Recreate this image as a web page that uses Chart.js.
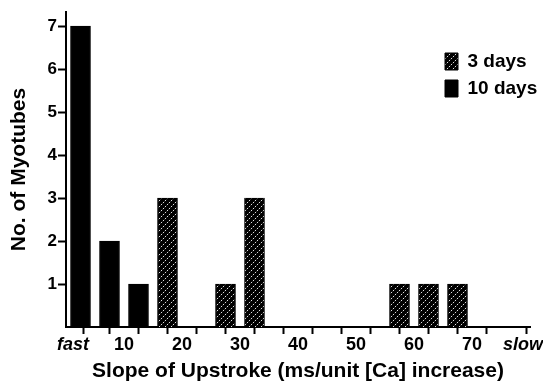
<!DOCTYPE html>
<html>
<head>
<meta charset="utf-8">
<script src="https://cdn.jsdelivr.net/npm/chart.js@4.4.0/dist/chart.umd.min.js"></script>
<style>
    body { margin: 0; background: #fff; }
    .chart-box { width: 543px; height: 385px; }
</style>
</head>
<body>
<div class="chart-box"><canvas id="histChart"></canvas></div>
<script>
// bins are 5 units wide, bars sit at the bin centres
var days3Bins = [17.5, 27.5, 32.5, 57.5, 62.5, 67.5];
var days3Counts = [3, 1, 3, 1, 1, 1];
var days10Bins = [2.5, 7.5, 12.5];
var days10Counts = [7, 2, 1];

// x axis: tick marks every 5, labels every 10, plus the fast / slow ends
var xTickMarks = [5, 10, 15, 20, 25, 30, 35, 40, 45, 50, 55, 60, 65, 70, 75, 80];
var xLabelValues = [1.2, 10, 20, 30, 40, 50, 60, 70, 78.8];
var xLabels = ["fast", "10", "20", "30", "40", "50", "60", "70", "slow"];
var yTicks = [1, 2, 3, 4, 5, 6, 7];

var fontFamily = "'Liberation Sans', Arial, Helvetica, sans-serif";

function toPoints(xs, ys) {
    return xs.map(function(x, i) { return { x: x, y: ys[i] }; });
}

// black fill with light dotted diagonal lines
function makeHatch() {
    var c = document.createElement("canvas");
    c.width = 6;
    c.height = 6;
    var g = c.getContext("2d");
    g.fillStyle = "#000";
    g.fillRect(0, 0, 6, 6);
    g.fillStyle = "#e0e0e0";
    [[5, 0], [3, 2], [1, 4]].forEach(function(p) { g.fillRect(p[0], p[1], 1, 1); });
    g.fillStyle = "#2a2a2a";
    [[4, 1], [2, 3], [0, 5]].forEach(function(p) { g.fillRect(p[0], p[1], 1, 1); });
    return g.createPattern(c, "repeat");
}

// put the legend in the upper right corner of the plot
// (the legend clips to its own box, so widen that box too)
var legendPlace = {
    id: "legendPlace",
    afterLayout: function(chart) {
        var lg = chart.legend;
        lg.left = 437;
        lg.top = 44;
        lg.right = chart.width;
        lg.bottom = chart.chartArea.bottom;
        lg.width = lg.right - lg.left;
        lg.height = lg.bottom - lg.top;
    }
};

var allXTicks = xTickMarks.concat(xLabelValues.filter(function(v) {
    return xTickMarks.indexOf(v) === -1;
})).sort(function(a, b) { return a - b; });

var ctx = document.getElementById("histChart").getContext("2d");
var histChart = new Chart(ctx, {
    type: "bar",
    data: {
        datasets: [{
            label: "3 days",
            data: toPoints(days3Bins, days3Counts),
            backgroundColor: makeHatch(),
            borderColor: "#000",
            borderWidth: 1,
            stack: "one"
        }, {
            label: "10 days",
            data: toPoints(days10Bins, days10Counts),
            backgroundColor: "#000",
            borderColor: "#000",
            borderWidth: 1,
            stack: "one"
        }]
    },
    options: {
        responsive: true,
        maintainAspectRatio: false,
        animation: false,
        barThickness: 20,
        layout: {
            padding: { top: 12, right: 13, left: 0, bottom: 0 }
        },
        plugins: {
            legend: {
                position: "chartArea",
                align: "start",
                labels: {
                    boxWidth: 13,
                    boxHeight: 17,
                    padding: 8,
                    color: "#000",
                    font: { family: fontFamily, size: 19, weight: "bold" }
                }
            },
            tooltip: { enabled: false }
        },
        scales: {
            x: {
                type: "linear",
                min: 0,
                max: 80,
                offset: false,
                afterBuildTicks: function(axis) {
                    axis.ticks = allXTicks.map(function(v) { return { value: v }; });
                },
                afterFit: function(axis) {
                    axis.height = 58;
                },
                border: { display: true, color: "#000", width: 2 },
                grid: {
                    drawOnChartArea: false,
                    drawTicks: true,
                    tickLength: 7,
                    tickWidth: 2,
                    tickColor: function(c) {
                        if (c.tick && xTickMarks.indexOf(c.tick.value) !== -1) return "#000";
                        return "rgba(0,0,0,0)";
                    }
                },
                ticks: {
                    autoSkip: false,
                    maxRotation: 0,
                    minRotation: 0,
                    padding: 0,
                    color: "#000",
                    font: function(c) {
                        var v = c.tick ? c.tick.value : null;
                        var edge = v === xLabelValues[0] || v === xLabelValues[xLabelValues.length - 1];
                        return { family: fontFamily, size: 18, weight: "bold", style: edge ? "italic" : "normal" };
                    },
                    callback: function(value) {
                        var i = xLabelValues.indexOf(value);
                        return i === -1 ? "" : xLabels[i];
                    }
                },
                title: {
                    display: true,
                    text: "Slope of Upstroke (ms/unit [Ca] increase)",
                    color: "#000",
                    font: { family: fontFamily, size: 21, weight: "bold" },
                    padding: { top: 0, bottom: 1 }
                }
            },
            y: {
                min: 0,
                max: 7.33,
                afterBuildTicks: function(axis) {
                    axis.ticks = yTicks.map(function(v) { return { value: v }; });
                },
                afterFit: function(axis) {
                    axis.width = 66;
                },
                border: { display: true, color: "#000", width: 2 },
                grid: {
                    drawOnChartArea: false,
                    drawTicks: true,
                    tickLength: 8,
                    tickWidth: 2,
                    tickColor: "#000"
                },
                ticks: {
                    padding: 1,
                    color: "#000",
                    font: { family: fontFamily, size: 17, weight: "bold" }
                },
                title: {
                    display: true,
                    text: "No. of Myotubes",
                    color: "#000",
                    font: { family: fontFamily, size: 21, weight: "bold" },
                    padding: { top: 7, bottom: 0 }
                }
            }
        }
    },
    plugins: [legendPlace]
});
</script>
</body>
</html>
